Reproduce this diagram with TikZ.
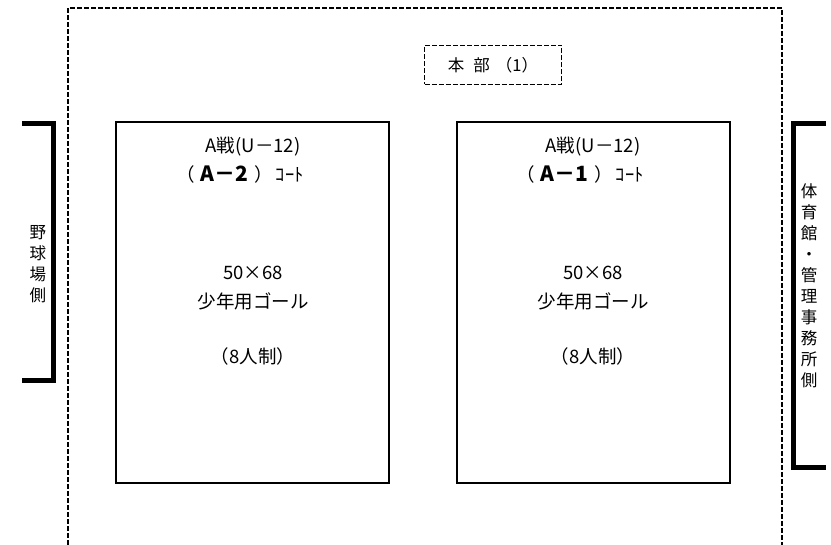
\documentclass[tikz,border=0pt]{standalone}
\usepackage{fontspec}
\newfontfamily\jp{Noto Sans CJK JP}
\setmainfont{Noto Sans CJK JP}
\begin{document}
\begin{tikzpicture}[x=1pt,y=-1pt,
  frame/.style={line width=2pt,dash pattern=on 5pt off 2pt},
  court/.style={draw,line width=1.8pt},
  brk/.style={line width=5pt},
  txt/.style={font=\fontsize{18.5}{20}\selectfont\jp,inner sep=0pt},
  vtxt/.style={font=\fontsize{16.5}{21}\selectfont\jp,align=center,inner sep=0pt}]
\useasboundingbox (0,0) rectangle (831,545);
% outer frame
\draw[frame] (68,545) -- (68,8) -- (782,8) -- (782,545);
% headquarters
\node[draw,frame,line width=1.5pt,minimum width=137pt,minimum height=39pt,inner sep=0pt,font=\fontsize{16.5}{18}\selectfont\jp] (hq) at (493,65) {本\hspace{9pt}部\hspace{6pt}（1）};
% courts
\node[court,minimum width=273pt,minimum height=361pt,inner sep=0pt] (c2) at (252.5,302.5) {};
\node[court,minimum width=273pt,minimum height=361pt,inner sep=0pt] (c1) at (593.5,302.5) {};
% texts left
\node[txt] (l1) at (253,147) {A戦(U－12)};
\node[txt] (l2) at (240,174) {（\hspace{6pt}{\fontsize{21}{22}\selectfont\bfseries A－2}\hspace{6pt}）\hspace{3pt}ｺｰﾄ};
\node[txt] (l3) at (253,273) {50×68};
\node[txt] (l4) at (253,301) {少年用ゴール};
\node[txt] (l5) at (253,356) {（8人制）};
% texts right
\node[txt] (r1) at (593,147) {A戦(U－12)};
\node[txt] (r2) at (580,174) {（\hspace{6pt}{\fontsize{21}{22}\selectfont\bfseries A－1}\hspace{6pt}）\hspace{3pt}ｺｰﾄ};
\node[txt] (r3) at (593,273) {50×68};
\node[txt] (r4) at (593,301) {少年用ゴール};
\node[txt] (r5) at (593,356) {（8人制）};
% brackets
\coordinate (la) at (22,124);
\coordinate (lb) at (53,124);
\coordinate (lc) at (53,381);
\coordinate (ld) at (22,381);
\draw[brk] (la) -- (lb) -- (lc) -- (ld);
\coordinate (ra) at (826,124);
\coordinate (rb) at (793,124);
\coordinate (rc) at (793,468);
\coordinate (rd) at (826,468);
\draw[brk] (ra) -- (rb) -- (rc) -- (rd);
\node[vtxt] (lt) at (38,264) {野\\球\\場\\側};
\node[vtxt] (rt) at (809,286) {体\\育\\館\\・\\管\\理\\事\\務\\所\\側};
\end{tikzpicture}
\end{document}
